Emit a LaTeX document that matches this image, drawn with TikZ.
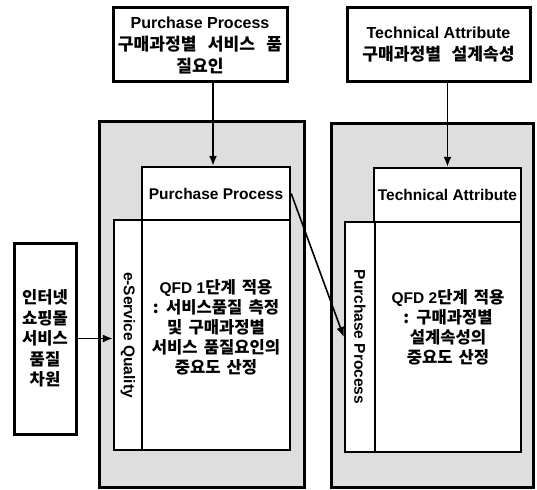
\documentclass[tikz,border=0pt]{standalone}
\usepackage{graphicx}
\usepackage{fontspec}
\setmainfont{Liberation Sans}
\newfontfamily\kr[Scale=1.07,WordSpace=1.6]{Noto Sans CJK KR}
\usetikzlibrary{arrows.meta}
\begin{document}
\begin{tikzpicture}[x=1pt,y=-1pt,
  txt/.style={font=\bfseries\fontsize{15.5}{21}\selectfont, align=center, inner sep=0pt},
  box/.style={txt, draw=black, line width=2.4pt, fill=white},
  outerbox/.style={draw=black, line width=3pt, fill=black!13, inner sep=0pt},
  arr/.style={line width=1.6pt, -{Latex[length=10pt,width=8pt]}}]
\useasboundingbox (0,0) rectangle (537,489);
% shaded groups
\node[outerbox, minimum width=205pt, minimum height=365pt] (lsh) at (201.5,304.5) {};
\node[outerbox, minimum width=202pt, minimum height=363pt] (rsh) at (432,305.5) {};
% top boxes
\node[box, line width=3pt, minimum width=174pt, minimum height=74pt, font=\bfseries\fontsize{16}{22}\selectfont] (tl) at (200,45)
  {Purchase Process\\{\kr 구매과정별\hspace{5pt} 서비스\hspace{5pt} 품}\\{\kr 질요인}};
\node[box, line width=3pt, minimum width=183pt, minimum height=74pt, font=\bfseries\fontsize{16}{22}\selectfont] (tr) at (438.5,45)
  {Technical Attribute\\{\kr 구매과정별\hspace{4pt} 설계속성}};
% left box
\node[box, line width=3pt, minimum width=62pt, minimum height=191pt, font=\bfseries\fontsize{15.5}{20.5}\selectfont] (lb) at (45,338.5)
  {{\kr 인터넷}\\{\kr 쇼핑몰}\\{\kr 서비스}\\{\kr 품질}\\{\kr 차원}};
% left group
\node[box, minimum width=148pt, minimum height=53pt] (pp) at (216,193.5) {Purchase Process};
\node[box, minimum width=28pt, minimum height=230pt] (esq) at (128,335) {\rotatebox{-90}{e-Service Quality}};
\node[box, minimum width=148pt, minimum height=230pt] (qfd1) at (216,335) {};
\node[txt, font=\bfseries\fontsize{15.5}{20}\selectfont] (qfd1t) at (216,327)
  {QFD 1{\kr 단계 적용}\\{\kr : 서비스품질 측정}\\{\kr 및 구매과정별}\\{\kr 서비스 품질요인의}\\{\kr 중요도 산정}};
% right group
\node[box, minimum width=147pt, minimum height=54pt] (ta) at (447.5,195) {Technical Attribute};
\node[box, minimum width=30pt, minimum height=230pt] (ppv) at (360,337) {\rotatebox{-90}{Purchase Process}};
\node[box, minimum width=146pt, minimum height=230pt] (qfd2) at (448,337) {};
\node[txt, font=\bfseries\fontsize{15.5}{20}\selectfont] (qfd2t) at (448,327.5)
  {QFD 2{\kr 단계 적용}\\{\kr : 구매과정별}\\{\kr 설계속성의}\\{\kr 중요도 산정}};
% connectors
\draw[arr] ([xshift=13pt]tl.south) -- ([xshift=-3pt]pp.north);
\draw[arr] (tr.south -| ta.north) -- (ta.north);
\draw[arr] (lb.east) -- (lb.east -| esq.west);
\draw[arr] (pp.east) -- (ppv.west);
\end{tikzpicture}
\end{document}
